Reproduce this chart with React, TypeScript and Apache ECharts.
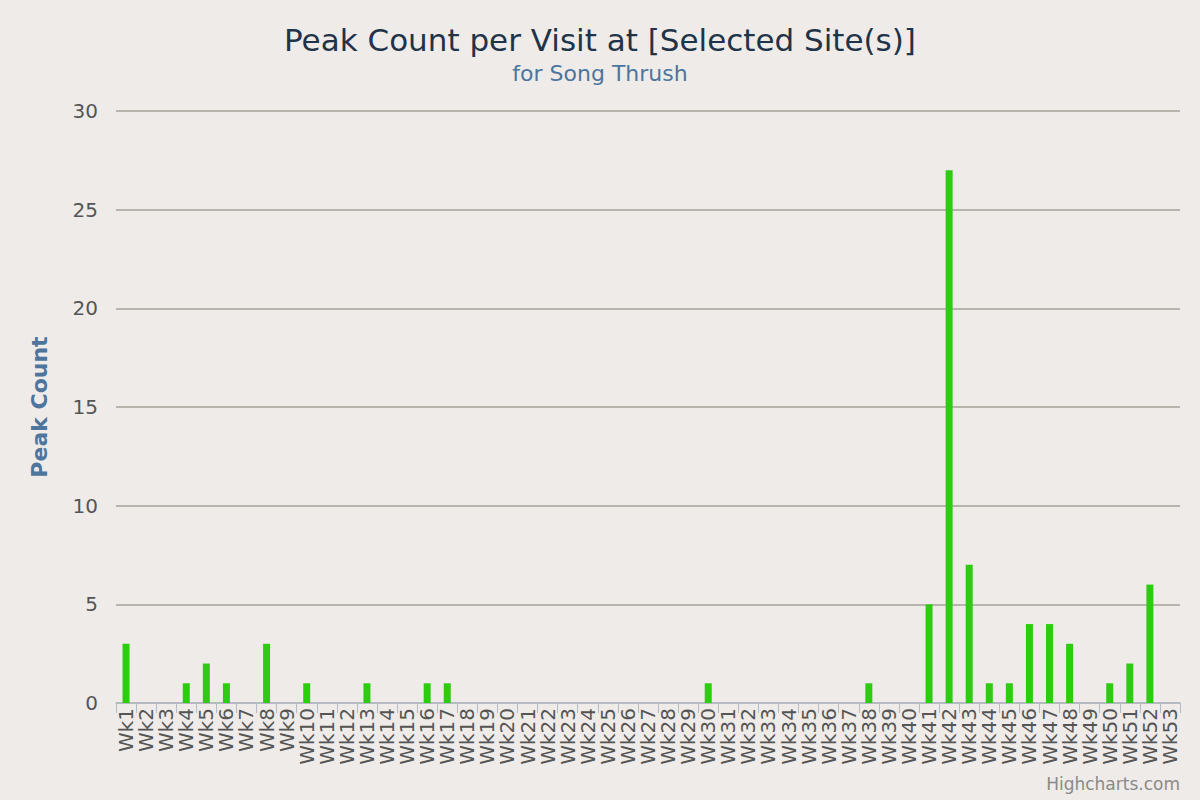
import React, { useEffect, useRef } from "react";
import * as echarts from "echarts";

const weeks: string[] = Array.from({ length: 53 }, (_, i) => `Wk${i + 1}`);
const peakCounts: number[] = [
  3, 0, 0, 1, 2, 1, 0, 3, 0, 1,
  0, 0, 1, 0, 0, 1, 1, 0, 0, 0,
  0, 0, 0, 0, 0, 0, 0, 0, 0, 1,
  0, 0, 0, 0, 0, 0, 0, 1, 0, 0,
  5, 27, 7, 1, 1, 4, 4, 3, 0, 1,
  2, 6, 0,
];
const yTicks = { min: 0, max: 30, interval: 5 };

const FONT = "'DejaVu Sans', Verdana, sans-serif";

export default function App() {
  const ref = useRef<HTMLDivElement>(null);
  useEffect(() => {
    if (!ref.current) return;
    const chart = echarts.init(ref.current, undefined, { renderer: "svg" });
    chart.setOption({
      animation: false,
      backgroundColor: "#EEEBE8",
      textStyle: { fontFamily: FONT },
      title: [
        {
          text: "Peak Count per Visit at [Selected Site(s)]",
          left: "center",
          top: 19,
          textStyle: { fontFamily: FONT, fontSize: 31, fontWeight: "normal", color: "#1f3349" },
        },
        {
          text: "for Song Thrush",
          left: "center",
          top: 57,
          textStyle: { fontFamily: FONT, fontSize: 22, fontWeight: "normal", color: "#4d759e" },
        },
      ],
      graphic: [
        {
          type: "text",
          right: 20,
          bottom: 8,
          style: { text: "Highcharts.com", fontFamily: FONT, fontSize: 17, fill: "#8a8a8a" },
        },
      ],
      grid: { left: 116, right: 20, top: 111, bottom: 97, containLabel: false },
      xAxis: {
        type: "category",
        data: weeks,
        axisLine: { lineStyle: { color: "#b4bcc8", width: 1.5 } },
        axisTick: { show: true, alignWithLabel: false, length: 10, lineStyle: { color: "#b4bcc8" } },
        axisLabel: {
          rotate: 90,
          interval: 0,
          fontSize: 20,
          color: "#555",
          fontFamily: FONT,
          margin: 5,
        },
      },
      yAxis: {
        type: "value",
        min: yTicks.min,
        max: yTicks.max,
        interval: yTicks.interval,
        name: "Peak Count",
        nameLocation: "middle",
        nameGap: 66,
        nameTextStyle: { fontFamily: FONT, fontSize: 22, fontWeight: "bold", color: "#4d759e" },
        axisLine: { show: false },
        axisTick: { show: false },
        axisLabel: { fontSize: 20, color: "#555", fontFamily: FONT, margin: 18 },
        splitLine: { lineStyle: { color: "#a8a29c", width: 1.5 } },
      },
      series: [
        {
          type: "bar",
          data: peakCounts,
          barWidth: 7,
          itemStyle: { color: "#2ecc10" },
        },
      ],
    });
    return () => chart.dispose();
  }, []);
  return <div ref={ref} style={{ position: "fixed", left: 0, top: 0, width: 1200, height: 800 }} />;
}
